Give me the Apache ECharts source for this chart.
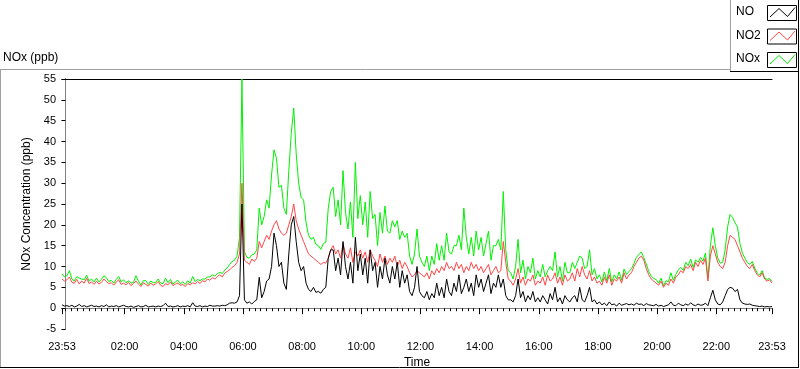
<!DOCTYPE html>
<html>
<head>
<meta charset="utf-8">
<script src="https://cdn.jsdelivr.net/npm/echarts@6/dist/echarts.min.js"></script>
<style>
html,body{margin:0;padding:0;background:#fff;}
#chart{width:800px;height:369px;}
</style>
</head>
<body>
<div id="chart"></div>
<script>
// Sampling grid: minutes relative to midnight, every 5 min from 23:53 (prev day) to 23:53
const START_MIN = -7;
const STEP_MIN = 5;
const N_POINTS = 289;

// NO (ppb)
const NO_ppb = [
0.8,0.5,
0.6,0.4,0.7,0.3,0.5,0.9,0.4,0.6,0.3,0.5,0.7,0.4,
0.5,0.3,0.6,0.4,0.8,0.3,0.5,0.4,0.6,0.3,0.5,0.7,
0.4,0.3,0.5,0.2,0.4,0.6,0.3,0.4,0.7,0.3,0.4,0.5,
0.3,0.5,0.4,0.6,1.2,0.4,0.5,0.3,0.4,0.6,0.3,0.5,
0.4,0.6,0.3,1.3,0.5,0.4,0.6,0.3,0.5,0.4,0.7,0.5,
0.5,0.6,0.5,0.7,0.6,0.8,1.2,1.3,1.2,1.5,3,25,
2.0,1.2,1.5,1.0,1.6,2.0,7.4,2.5,4,6.5,7,10,
18,15,10,11,6,4.5,13,20,22,16,11,9,
10,6,4.5,4,5,3.8,4,3.6,4.5,5,12,14,
14,9,12,8,16,10,7,11,6,17,9,13,
8,12,6,14,9,11,5,10,7,12,8,6,
10,7,11,5,9,6,8,4,3,5,10,4,
3,2.5,4,2,3.5,2.5,6,3,5,2.5,7,4,
3,6,4,8,3.5,5,7,4,6,3,8,5,
7,4,6,8,3.5,6,5,8,5,7,3,2,
2,1.5,3,7,2.5,4,1.5,3,2,4,1.5,2.5,
1.5,3,2,1,3.5,2,5,1.5,2.5,1,3,2,
1.5,2.5,3,1.5,5,2,1.5,3,5,1.5,2,1,
1.5,0.8,1.2,0.6,1.5,0.8,1.0,0.5,1.2,0.7,0.9,1.1,
0.8,1.0,0.7,1.2,0.9,1.0,0.6,1.1,0.8,0.7,0.6,0.9,
0.5,0.7,0.4,0.6,0.8,1.5,0.7,0.6,1.2,0.8,0.6,1.0,
0.7,1.3,0.8,0.6,1.0,0.7,0.8,1.2,0.6,2.5,4.3,2,
1.0,0.8,1.5,3,4.5,5,4.8,4,4.5,2,1.2,1.0,
0.9,1.0,0.7,0.6,0.5,0.4,0.5,0.3,0.4,0.3,0.4
];

// NO2 (ppb)
const NO2_ppb = [
7.0,6.5,
6.8,7.5,6.2,6.0,6.9,5.8,6.5,6.0,7.2,5.9,6.3,5.7,
6.5,5.8,6.2,7.0,6.4,5.9,6.1,5.5,6.3,6.8,5.7,6.0,
5.6,6.2,5.4,5.9,6.5,5.8,5.2,6.1,5.7,5.3,6.0,5.5,
5.8,6.4,5.5,5.2,5.9,5.6,6.3,5.4,5.8,6.0,5.5,5.7,
5.2,5.9,5.6,6.1,5.8,6.4,5.9,6.6,6.3,7.0,6.7,7.3,
7.0,7.6,8.0,7.5,8.4,8.8,9.2,9.8,10.2,11.0,13,30,
11.5,11.0,10.5,11.8,11.2,12.0,16,14.5,16,17.5,16.5,18.5,
20,21,19,18,17.5,18,20,22,25,21,19,17.5,
16,14.5,13,12.5,12,11.5,11,10.5,11,10.8,12,14,
15,13,14,12,15.5,13,12,14.5,11,13.5,12.5,14,
12,13.5,11,14,12.5,11.5,10,13,11,12.5,10.5,12,
11,12.5,10,11.5,9.5,11,10,8.5,7.5,8,9,8.5,
8,7.5,8.5,7,9,8,9.5,8.5,10,9,11,9.5,
10,9,11,9.5,10.5,8.5,10,9,11,9.5,10.5,9,
10,8.5,9.5,10.5,8,9,10,8.5,9,16,11,7,
6.5,5.5,7,9.5,6,7.5,5.5,7,6.5,8,5.5,6.5,
6,7.5,5.5,8,6.5,7,8.5,6,7.5,5.5,8,6.5,
7,8.5,6.5,9.5,7.5,10,8,7,9,6.5,7.5,6,
6.5,5.5,7.5,6,8,5.5,7,6.5,7.5,6,8.5,7,
8,8.5,10,11,12,12.5,11.5,9.5,8,7,6.5,6,
5.5,6.5,5,6,5.5,7,6,7.5,8,9,8.5,10,
9.5,10.5,9,11,10,11.5,10.5,12,6.5,12.5,15,13,
11,10,9.5,11,15,17.5,17,16.5,15,13.5,12,11,
10,9.5,10.5,9,8,7.5,8.5,7,6.5,6.8,6
];

// NOx (ppb)
const NOx_ppb = [
8.2,7.5,
7.8,9.0,7.0,6.5,7.6,7.2,7.0,6.8,7.9,6.5,7.0,6.3,
7.2,6.3,6.9,7.8,7.3,6.4,6.7,6.0,6.9,7.6,6.3,6.8,
6.1,6.6,6.0,6.2,7.8,6.5,5.6,6.6,6.6,5.7,6.5,6.1,
6.2,7.0,6.0,5.9,7.2,6.1,6.9,5.8,6.3,6.7,5.9,6.3,
5.7,6.6,6.0,7.6,6.4,6.9,6.6,7.0,7.0,7.5,7.5,8.0,
7.7,8.3,8.6,8.3,9.1,9.7,10.5,11.2,11.5,12.5,17,55,
13.5,12.2,12.0,12.8,13.0,14.0,24,20,22,26,24,32,
38,36,29,29.5,24,22.5,33,42,48,37,30,26.5,
26,20.5,17.5,16.5,17,15.3,15,14.1,15.5,15.8,24,28,
29,22,26,20,33,23,19,25.5,17,35,21.5,27,
20,25.5,17,28,21.5,22.5,15,23,18,24.5,18.5,18,
21,19.5,21,16.5,18.5,17,18,12.5,10.5,13,19,12.5,
11,10,12.5,9,12.5,10.5,15.5,11.5,15,11.5,18,13.5,
13,15,15,17.5,14,24,17,13,17,12.5,18.5,14,
17,12.5,15.5,18.5,11.5,15,15,16.5,14,28,14,9,
8.5,7,10,16.5,8.5,11.5,7,10,8.5,12,7,9,
7.5,10.5,7.5,9,10,9,13.5,7.5,10,6.5,11,8.5,
8.5,11,9.5,11,12.5,12,9.5,10,14,8,9.5,7,
8,6.3,8.7,6.6,9.5,6.3,8,7,8.7,6.7,9.4,8.1,
8.8,9.5,10.7,12.2,12.9,13.5,12.1,10.6,8.8,7.7,7.1,6.9,
6,7.2,5.4,6.6,6.3,8.5,6.7,8.1,9.2,9.8,9.1,11,
10.2,11.8,9.8,11.6,11,12.2,11.3,13.2,7.1,15,19.3,15,
12,10.8,11,14,19.5,22.5,21.8,20.5,19.5,15.5,13.2,12,
10.9,10.5,11.2,9.6,8.5,7.9,9,7.3,6.9,7.1,6.4
];

// Axis tick positions (minutes)
const X_MIN = -7, X_MAX = 1433;
const majorTickLabels = [-7,120,240,360,480,600,720,840,960,1080,1200,1320,1433];
const minorTicks = [];
for (let m = 0; m <= 1428; m += 12) minorTicks.push(m);

const timesMin = [];
for (let i = 0; i < N_POINTS; i++) timesMin.push(START_MIN + STEP_MIN * i);
const pair = arr => timesMin.map((t, i) => [t, arr[i]]);

function fmt(v) {
  let m = Math.round(v);
  if (m < 0) m += 1440;
  const hh = Math.floor(m / 60), mm = m % 60;
  return String(hh).padStart(2, '0') + ':' + String(mm).padStart(2, '0');
}

const FONT = 'Liberation Sans';
const C_NO = '#000000', C_NO2 = '#ff4646', C_NOX = '#00f000';
const chart = echarts.init(document.getElementById('chart'), null, {renderer: 'canvas'});

const legendItems = [
  {name: 'NO', color: C_NO},
  {name: 'NO2', color: C_NO2},
  {name: 'NOx', color: C_NOX}
];
const graphics = [
  // outer frame
  {type: 'line', shape: {x1: 0, y1: 69.5, x2: 731, y2: 69.5}, style: {stroke: '#a0a0a0', lineWidth: 1}, silent: true},
  {type: 'line', shape: {x1: 0.5, y1: 69, x2: 0.5, y2: 368}, style: {stroke: '#a0a0a0', lineWidth: 1}, silent: true},
  {type: 'line', shape: {x1: 0, y1: 367.5, x2: 799, y2: 367.5}, style: {stroke: '#000', lineWidth: 1}, silent: true},
  {type: 'line', shape: {x1: 798.5, y1: 0, x2: 798.5, y2: 368}, style: {stroke: '#000', lineWidth: 1}, silent: true},
  // legend box
  {type: 'line', shape: {x1: 730.5, y1: 0, x2: 730.5, y2: 72}, style: {stroke: '#a0a0a0', lineWidth: 1}, silent: true},
  {type: 'line', shape: {x1: 730, y1: 71.5, x2: 799, y2: 71.5}, style: {stroke: '#000', lineWidth: 1}, silent: true},
  // title
  {type: 'text', left: 3, top: 52, style: {text: 'NOx (ppb)', font: '12px "' + FONT + '"', fill: '#000'}, silent: true}
];
legendItems.forEach((it, k) => {
  const oy = k * 23.5;
  graphics.push({type: 'text', left: 736, top: 6 + oy, style: {text: it.name, font: '12px "' + FONT + '"', fill: '#000'}, silent: true});
  graphics.push({type: 'rect', shape: {x: 767.5, y: 5.5 + oy, width: 29, height: 15}, style: {stroke: '#000', fill: '#fff', lineWidth: 1}, silent: true});
  graphics.push({type: 'polyline', shape: {points: [[770, 17 + oy], [779, 8.5 + oy], [787.5, 16.5 + oy], [795, 7.5 + oy]]}, style: {stroke: it.color, lineWidth: 1, fill: null}, silent: true});
});

const option = {
  animation: false,
  backgroundColor: '#fff',
  grid: {left: 62, top: 79, width: 710, height: 250, show: false, containLabel: false, outerBoundsMode: 'none'},
  xAxis: [
    {
      type: 'value', min: X_MIN, max: X_MAX, position: 'bottom',
      name: 'Time', nameLocation: 'middle', nameGap: 27,
      nameTextStyle: {fontFamily: FONT, fontSize: 12, color: '#000'},
      axisLine: {show: true, lineStyle: {color: '#808080', width: 1}},
      axisTick: {show: true, length: 6, lineStyle: {color: '#000'}, customValues: majorTickLabels},
      axisLabel: {show: true, margin: 12, fontFamily: FONT, fontSize: 11, color: '#000', customValues: majorTickLabels, formatter: fmt},
      splitLine: {show: false}
    },
    {
      type: 'value', min: X_MIN, max: X_MAX, position: 'bottom', gridIndex: 0,
      axisLine: {show: false},
      axisTick: {show: true, length: 3, lineStyle: {color: '#000'}, customValues: minorTicks},
      axisLabel: {show: false},
      splitLine: {show: false}
    },
    {
      type: 'value', min: X_MIN, max: X_MAX, position: 'top',
      axisLine: {show: true, lineStyle: {color: '#000', width: 1}},
      axisTick: {show: false}, axisLabel: {show: false}, splitLine: {show: false}
    }
  ],
  yAxis: [
    {
      type: 'value', min: -5, max: 55, interval: 5, position: 'left',
      name: 'NOx Concentration (ppb)', nameLocation: 'middle', nameGap: 26, nameRotate: 90,
      nameTextStyle: {fontFamily: FONT, fontSize: 12, color: '#000'},
      axisLine: {show: true, lineStyle: {color: '#000', width: 1}},
      axisTick: {show: true, length: 4, lineStyle: {color: '#000'}},
      axisLabel: {show: true, margin: 6, fontFamily: FONT, fontSize: 11, color: '#000'},
      splitLine: {show: false}
    },
    {
      type: 'value', min: -5, max: 55, interval: 5, position: 'right',
      axisLine: {show: true, lineStyle: {color: '#808080', width: 1}},
      axisTick: {show: false}, axisLabel: {show: false}, splitLine: {show: false}
    }
  ],
  series: [
    {name: 'NOx', type: 'line', data: pair(NOx_ppb), showSymbol: false, symbol: 'none', lineStyle: {color: C_NOX, width: 1}, itemStyle: {color: C_NOX}, z: 2},
    {name: 'NO2', type: 'line', data: pair(NO2_ppb), showSymbol: false, symbol: 'none', lineStyle: {color: C_NO2, width: 1}, itemStyle: {color: C_NO2}, z: 3},
    {name: 'NO', type: 'line', data: pair(NO_ppb), showSymbol: false, symbol: 'none', lineStyle: {color: C_NO, width: 1}, itemStyle: {color: C_NO}, z: 4}
  ],
  graphic: graphics
};
chart.setOption(option);
</script>
</body>
</html>
